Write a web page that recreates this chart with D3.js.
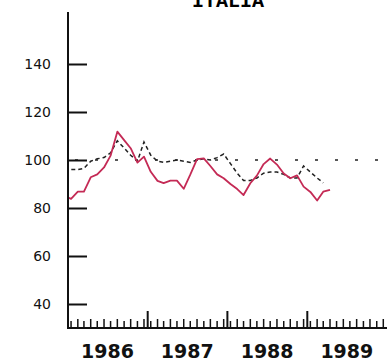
<!DOCTYPE html>
<html>
<head>
<meta charset="utf-8">
<script src="https://cdn.jsdelivr.net/npm/d3@7"></script>
<style>
  body { margin: 0; background: #fff; }
  svg { display: block; }
</style>
</head>
<body>
<svg width="392" height="363"></svg>
<script>
// red series, monthly from Dec 1985 (mid-month) to Apr 1989
const redStart = new Date(1985, 11, 15);
const redValues = [85, 83.8, 86.8, 86.8, 92.8, 94.0, 96.9, 101.8, 111.8, 108.3, 104.9, 98.9, 101.4,
  95.1, 91.3, 90.4, 91.4, 91.4, 88.0, 93.9, 100.4, 100.7, 97.5, 94.0, 92.4,
  90.0, 87.9, 85.4, 90.3, 93.5, 98.3, 100.6, 98.1, 94.4, 92.4, 93.6, 88.9,
  86.7, 83.1, 86.8, 87.6];

// black dashed series, monthly from Dec 1985 to Mar 1989
const dashStart = new Date(1985, 11, 15);
const dashValues = [96, 96, 96, 96.5, 99.5, 100.5, 101, 103, 108, 105, 102, 99.5, 107.5,
  102, 99.5, 99, 99.5, 100, 99.5, 99, 100, 100.5, 100, 101, 102.5,
  98.5, 94.5, 91.5, 91.5, 92.5, 94.5, 95, 95, 94, 92.5, 92.5, 97.5,
  95, 92.5, 90.5];

const baseValue = 100;
const yTicks = [40, 60, 80, 100, 120, 140];
const years = [1986, 1987, 1988, 1989];
const title = 'ITALIA';

const svg = d3.select('svg');
const plot = { left: 68, right: 387, top: 12, bottom: 328 };

const x = d3.scaleTime()
  .domain([new Date(1986, 0, 1), new Date(1990, 0, 1)])
  .range([plot.left, plot.right]);
const y = d3.scaleLinear()
  .domain([30, 30 + (plot.bottom - plot.top) / 2.4])
  .range([plot.bottom, plot.top]);

function toPoints(start, values) {
  return values.map((v, i) => ({ date: new Date(start.getFullYear(), start.getMonth() + i, 15), value: v }));
}

svg.append('defs').append('clipPath').attr('id', 'clip')
  .append('rect')
  .attr('x', plot.left).attr('y', plot.top)
  .attr('width', plot.right - plot.left).attr('height', plot.bottom - plot.top);

// title (cut at the top edge)
svg.append('text')
  .attr('x', 228).attr('y', 7)
  .attr('text-anchor', 'middle')
  .style('font-family', '"Liberation Mono", monospace')
  .style('font-weight', 'bold')
  .style('font-size', '20px')
  .text(title);

const line = d3.line().x(d => x(d.date)).y(d => y(d.value));

const g = svg.append('g').attr('clip-path', 'url(#clip)');

// dotted reference line at 100
g.append('line')
  .attr('x1', x(new Date(1986, 0, 1))).attr('x2', x(new Date(1989, 11, 20)))
  .attr('y1', y(baseValue)).attr('y2', y(baseValue))
  .attr('stroke', '#222').attr('stroke-width', 1.5)
  .attr('stroke-dasharray', '3,17').attr('stroke-dashoffset', -7);

// black dashed series
g.append('path')
  .datum(toPoints(dashStart, dashValues))
  .attr('d', line)
  .attr('fill', 'none')
  .attr('stroke', '#222').attr('stroke-width', 1.5)
  .attr('stroke-dasharray', '4,3');

// red series
g.append('path')
  .datum(toPoints(redStart, redValues))
  .attr('d', line)
  .attr('fill', 'none')
  .attr('stroke', '#c42a55').attr('stroke-width', 1.8)
  .attr('stroke-linejoin', 'round');

// y axis
const yAxis = svg.append('g')
  .attr('transform', 'translate(' + plot.left + ',0)')
  .call(d3.axisRight(y).tickValues(yTicks).tickSize(19).tickFormat(''));
yAxis.select('.domain').remove();
yAxis.selectAll('line').attr('stroke', '#111').attr('stroke-width', 2);
svg.append('line')
  .attr('x1', plot.left).attr('x2', plot.left)
  .attr('y1', plot.top).attr('y2', plot.bottom + 1)
  .attr('stroke', '#111').attr('stroke-width', 2);

svg.append('g').selectAll('text')
  .data(yTicks).enter().append('text')
  .attr('x', 51).attr('y', d => y(d) + 5)
  .attr('text-anchor', 'end')
  .style('font-family', '"DejaVu Sans", sans-serif')
  .style('font-size', '14px')
  .attr('fill', '#111')
  .text(d => d);

// x axis
svg.append('line')
  .attr('x1', plot.left).attr('x2', plot.right)
  .attr('y1', plot.bottom).attr('y2', plot.bottom)
  .attr('stroke', '#111').attr('stroke-width', 2);

const midMonths = d3.timeMonth.range(new Date(1986, 0, 1), new Date(1990, 0, 1))
  .map(d => new Date(d.getFullYear(), d.getMonth(), 15));
svg.append('g').selectAll('line')
  .data(midMonths).enter().append('line')
  .attr('x1', d => x(d)).attr('x2', d => x(d))
  .attr('y1', plot.bottom).attr('y2', d => plot.bottom - (d.getMonth() % 2 === 0 ? 7 : 9))
  .attr('stroke', '#111').attr('stroke-width', 1.5);

svg.append('g').selectAll('line')
  .data(years.slice(1)).enter().append('line')
  .attr('x1', d => x(new Date(d, 0, 1))).attr('x2', d => x(new Date(d, 0, 1)))
  .attr('y1', plot.bottom).attr('y2', plot.bottom - 17)
  .attr('stroke', '#111').attr('stroke-width', 2);

svg.append('g').selectAll('text')
  .data(years).enter().append('text')
  .attr('x', d => x(new Date(d, 6, 1)))
  .attr('y', 358)
  .attr('text-anchor', 'middle')
  .style('font-family', '"DejaVu Sans", sans-serif')
  .style('font-size', '19px')
  .style('font-weight', 'bold')
  .attr('fill', '#111')
  .text(d => d);
</script>
</body>
</html>
